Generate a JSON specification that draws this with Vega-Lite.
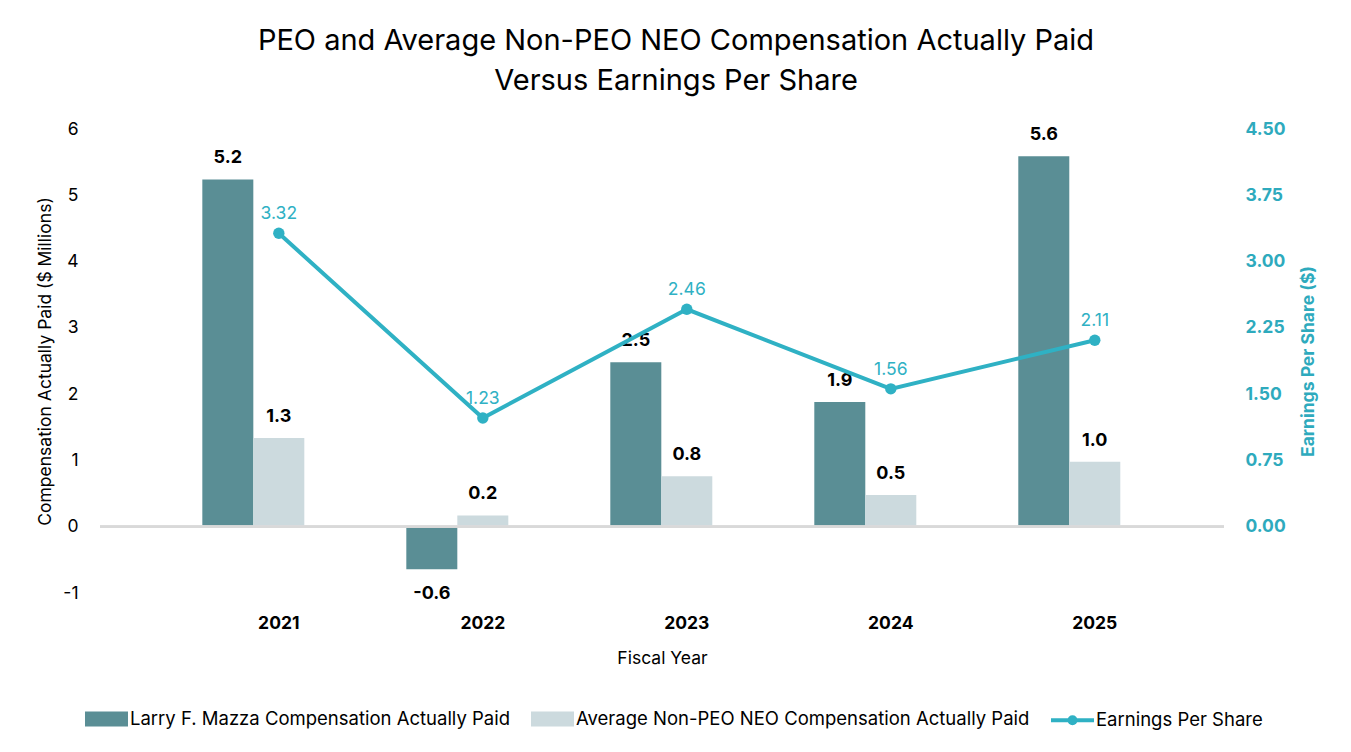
{
  "$schema": "https://vega.github.io/schema/vega-lite/v6.json",
  "width": 1124,
  "height": 464,
  "autosize": "none",
  "padding": {"left": 100, "top": 129, "right": 127, "bottom": 159},
  "background": "white",
  "config": {
    "view": {"stroke": null},
    "font": "Inter",
    "axis": {"grid": false, "domain": false, "ticks": false, "labelFont": "Inter", "titleFont": "Inter"},
    "legend": {"labelFont": "Inter"}
  },
  "title": {
    "text": ["PEO and Average Non-PEO NEO Compensation Actually Paid", "Versus Earnings Per Share"],
    "font": "Inter",
    "fontSize": 29,
    "fontWeight": "normal",
    "color": "#000000",
    "lineHeight": 40,
    "anchor": "middle",
    "baseline": "bottom",
    "dx": 14,
    "offset": -5
  },
  "datasets": {
    "comp": [
      {"year": "2021", "series": "Larry F. Mazza Compensation Actually Paid", "value": 5.24},
      {"year": "2021", "series": "Average Non-PEO NEO Compensation Actually Paid", "value": 1.34},
      {"year": "2022", "series": "Larry F. Mazza Compensation Actually Paid", "value": -0.64},
      {"year": "2022", "series": "Average Non-PEO NEO Compensation Actually Paid", "value": 0.17},
      {"year": "2023", "series": "Larry F. Mazza Compensation Actually Paid", "value": 2.48},
      {"year": "2023", "series": "Average Non-PEO NEO Compensation Actually Paid", "value": 0.76},
      {"year": "2024", "series": "Larry F. Mazza Compensation Actually Paid", "value": 1.88},
      {"year": "2024", "series": "Average Non-PEO NEO Compensation Actually Paid", "value": 0.48},
      {"year": "2025", "series": "Larry F. Mazza Compensation Actually Paid", "value": 5.59},
      {"year": "2025", "series": "Average Non-PEO NEO Compensation Actually Paid", "value": 0.98}
    ],
    "eps": [
      {"year": "2021", "eps": 3.32},
      {"year": "2022", "eps": 1.23},
      {"year": "2023", "eps": 2.46},
      {"year": "2024", "eps": 1.56},
      {"year": "2025", "eps": 2.11}
    ]
  },
  "resolve": {"scale": {"y": "independent"}},
  "layer": [
    {
      "data": {"name": "comp"},
      "transform": [
        {"calculate": "replace(format(datum.value, '.1f'), '\u2212', '-')", "as": "label"}
      ],
      "layer": [
        {
          "mark": {"type": "bar"},
          "encoding": {
            "x": {
              "field": "year", "type": "nominal",
              "scale": {"paddingInner": 0.25, "paddingOuter": 0.38, "align": 0.66},
              "axis": {"labelAngle": 0, "labelFontSize": 17.5, "labelFontWeight": "bold", "labelColor": "#000000", "labelPadding": 21, "title": "Fiscal Year", "titleFontSize": 17.5, "titleFontWeight": "normal", "titleColor": "#000000", "titlePadding": 18}
            },
            "xOffset": {
              "field": "series", "type": "nominal",
              "scale": {"domain": ["Larry F. Mazza Compensation Actually Paid", "Average Non-PEO NEO Compensation Actually Paid", "blank"], "paddingInner": 0, "paddingOuter": 0}
            },
            "y": {
              "field": "value", "type": "quantitative",
              "scale": {"domain": [-1, 6], "nice": false, "zero": false},
              "axis": {"values": [-1, 0, 1, 2, 3, 4, 5, 6], "format": "d", "labelExpr": "replace(datum.label, '\u2212', '-')", "labelFontSize": 17.5, "labelColor": "#000000", "labelPadding": 22, "title": "Compensation Actually Paid ($ Millions)", "titleFontSize": 17.5, "titleFontWeight": "normal", "titleColor": "#000000", "titlePadding": 8}
            },
            "color": {
              "field": "series", "type": "nominal",
              "scale": {"domain": ["Larry F. Mazza Compensation Actually Paid", "Average Non-PEO NEO Compensation Actually Paid", "Earnings Per Share"], "range": ["#5a8e95", "#ccdade", "#2fb1c4"]},
              "legend": {
                "orient": "none", "legendX": -17, "legendY": 566, "direction": "horizontal",
                "title": null, "padding": 0,
                "symbolSize": 1849, "symbolStrokeWidth": 4,
                "symbolType": "M-0.907,-0.256H0.907V0.256H-0.907Z",
                "labelFontSize": 18.5, "labelColor": "#000000", "labelOffset": 0, "labelLimit": 700,
                "columnPadding": 13,
                "encode": {
                  "symbols": {
                    "update": {
                      "shape": {"signal": "datum.value === 'Earnings Per Share' ? 'M-1,0H1M0.14,0A0.14,0.14 0 1 1 -0.14,0A0.14,0.14 0 1 1 0.14,0' : 'M-0.907,-0.256H0.907V0.256H-0.907Z'"},
                      "fill": {"scale": "color", "field": "value"},
                      "stroke": {"scale": "color", "field": "value"},
                      "opacity": {"value": 1},
                      "fillOpacity": {"value": 1},
                      "strokeOpacity": {"value": 1}
                    }
                  }
                }
              }
            }
          }
        },
        {
          "transform": [{"filter": "datum.value >= 0"}],
          "mark": {"type": "text", "baseline": "alphabetic", "dy": -16, "fontSize": 18, "fontWeight": "bold", "color": "#000000"},
          "encoding": {
            "x": {"field": "year", "type": "nominal"},
            "xOffset": {"field": "series", "type": "nominal", "scale": {"domain": ["Larry F. Mazza Compensation Actually Paid", "Average Non-PEO NEO Compensation Actually Paid", "blank"], "paddingInner": 0, "paddingOuter": 0}},
            "y": {"field": "value", "type": "quantitative"},
            "text": {"field": "label"}
          }
        },
        {
          "transform": [{"filter": "datum.value < 0"}],
          "mark": {"type": "text", "baseline": "top", "dy": 16, "fontSize": 18, "fontWeight": "bold", "color": "#000000"},
          "encoding": {
            "x": {"field": "year", "type": "nominal"},
            "xOffset": {"field": "series", "type": "nominal", "scale": {"domain": ["Larry F. Mazza Compensation Actually Paid", "Average Non-PEO NEO Compensation Actually Paid", "blank"], "paddingInner": 0, "paddingOuter": 0}},
            "y": {"field": "value", "type": "quantitative"},
            "text": {"field": "label"}
          }
        },
        {
          "mark": {"type": "rule", "color": "#d9d9d9", "strokeWidth": 2},
          "encoding": {"y": {"datum": 0}}
        }
      ]
    },
    {
      "data": {"name": "eps"},
      "layer": [
        {
          "mark": {"type": "line", "strokeWidth": 4, "point": {"filled": true, "size": 130}},
          "encoding": {
            "x": {"field": "year", "type": "nominal"},
            "y": {
              "field": "eps", "type": "quantitative",
              "scale": {"domain": [-0.75, 4.5], "nice": false, "zero": false},
              "axis": {"orient": "right", "values": [0, 0.75, 1.5, 2.25, 3, 3.75, 4.5], "format": ".2f", "labelFontSize": 17.5, "labelFontWeight": "bold", "labelColor": "#2eaabd", "labelPadding": 21, "title": "Earnings Per Share ($)", "titleFontSize": 17.5, "titleFontWeight": "bold", "titleColor": "#2eaabd", "titlePadding": 14, "titleAngle": 270, "titleBaseline": "top"}
            },
            "color": {"datum": "Earnings Per Share"}
          }
        },
        {
          "mark": {"type": "text", "baseline": "alphabetic", "dy": -14, "fontSize": 17.5, "color": "#2fb1c4"},
          "encoding": {
            "x": {"field": "year", "type": "nominal"},
            "y": {"field": "eps", "type": "quantitative"},
            "text": {"field": "eps", "format": ".2f"}
          }
        }
      ]
    }
  ]
}
